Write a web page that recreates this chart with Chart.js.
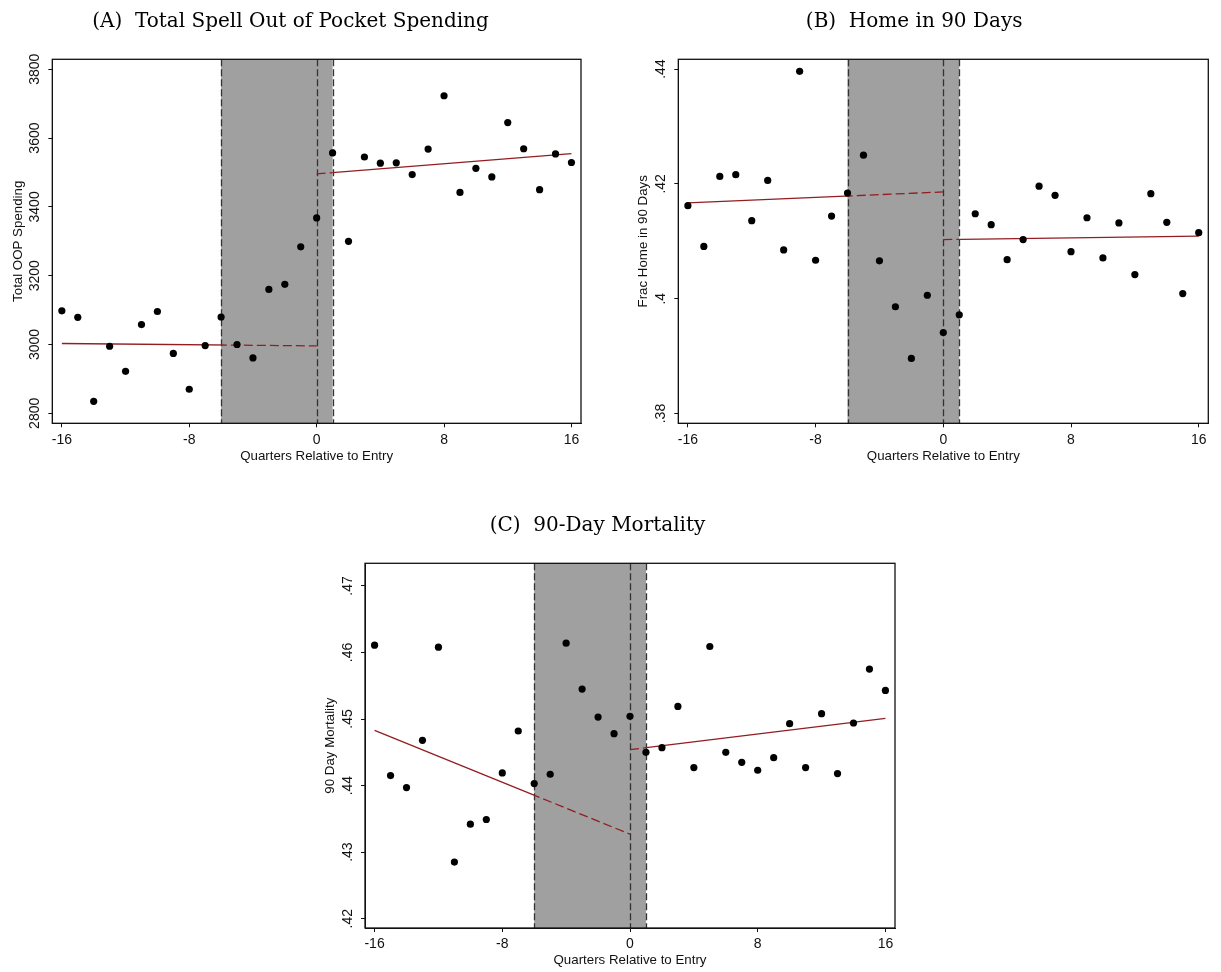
<!DOCTYPE html>
<html>
<head>
<meta charset="utf-8">
<script src="https://cdn.jsdelivr.net/npm/chart.js@4.4.0/dist/chart.umd.min.js"></script>
<style>
  html, body { margin: 0; padding: 0; background: #fff; overflow: hidden; width: 1221px; height: 972px; }
  canvas { position: absolute; }
</style>
</head>
<body>
<canvas id="chartA" width="603" height="470" style="left:0px;top:0px"></canvas>
<canvas id="chartB" width="602" height="470" style="left:620px;top:0px"></canvas>
<canvas id="chartC" width="640" height="470" style="left:300px;top:504px"></canvas>
<script>
// quarters relative to entry (-16 .. 16)
const quarters = [-16, -15, -14, -13, -12, -11, -10, -9, -8, -7, -6, -5, -4, -3, -2, -1,
  0, 1, 2, 3, 4, 5, 6, 7, 8, 9, 10, 11, 12, 13, 14, 15, 16];
const xTicks = [-16, -8, 0, 8, 16];

// shaded window around entry
const windowStart = -6;
const windowEnd = 1;
const entryQuarter = 0;

// fitted lines: endpoints before / after entry
const preFitQuarters = [-16, 0];
const postFitQuarters = [0, 16];

// (A) total spell out of pocket spending
const oopSpending = [3098, 3079, 2835, 2995, 2922, 3058, 3096, 2974, 2870, 2997, 3080, 3000, 2961,
  3160, 3175, 3284, 3368, 3557, 3300, 3545, 3527, 3528, 3494, 3568, 3723, 3442, 3512, 3487,
  3645, 3569, 3450, 3554, 3529];
const oopPreFit = [3003, 2996];
const oopPostFit = [3496, 3555];
const oopTicks = [2800, 3000, 3200, 3400, 3600, 3800];
const oopTickLabels = ["2800", "3000", "3200", "3400", "3600", "3800"];

// (B) home in 90 days
const homeFrac = [0.4162, 0.4091, 0.4213, 0.4216, 0.4136, 0.4206, 0.4085, 0.4396, 0.4067, 0.4144,
  0.4184, 0.4250, 0.4066, 0.3986, 0.3896, 0.4006, 0.3941, 0.3972, 0.4148, 0.4129, 0.4068,
  0.4103, 0.4196, 0.4180, 0.4082, 0.4141, 0.4071, 0.4132, 0.4042, 0.4183, 0.4133, 0.4009, 0.4115];
const homePreFit = [0.4167, 0.4186];
const homePostFit = [0.4103, 0.4109];
const homeTicks = [0.38, 0.40, 0.42, 0.44];
const homeTickLabels = [".38", ".4", ".42", ".44"];

// (C) 90-day mortality
const mortality = [0.4611, 0.4415, 0.4397, 0.4468, 0.4608, 0.4285, 0.4342, 0.4349, 0.4419, 0.4482,
  0.4403, 0.4417, 0.4614, 0.4545, 0.4503, 0.4478, 0.4504, 0.4450, 0.4457, 0.4519, 0.4427,
  0.4609, 0.4450, 0.4435, 0.4423, 0.4442, 0.4493, 0.4427, 0.4508, 0.4418, 0.4494, 0.4575, 0.4543];
const mortPreFit = [0.4483, 0.4327];
const mortPostFit = [0.4454, 0.4501];
const mortTicks = [0.42, 0.43, 0.44, 0.45, 0.46, 0.47];
const mortTickLabels = [".42", ".43", ".44", ".45", ".46", ".47"];

Chart.defaults.font.family = "'Liberation Sans', Arial, sans-serif";
Chart.defaults.color = "#111";

// shading, dashed verticals, clipping of fit lines, frame, rotated y labels
const panelDecor = {
  id: "panelDecor",
  beforeDatasetsDraw(chart) {
    const { ctx, chartArea: a, scales: { x } } = chart;
    const x0 = x.getPixelForValue(windowStart);
    const x1 = x.getPixelForValue(windowEnd);
    ctx.save();
    ctx.fillStyle = "#a0a0a0";
    ctx.fillRect(x0, a.top, x1 - x0, a.bottom - a.top);
    ctx.strokeStyle = "#333";
    ctx.lineWidth = 1.3;
    ctx.setLineDash([7, 3]);
    [windowStart, entryQuarter, windowEnd].forEach(q => {
      const px = Math.round(x.getPixelForValue(q)) + 0.5;
      ctx.beginPath();
      ctx.moveTo(px, a.top);
      ctx.lineTo(px, a.bottom);
      ctx.stroke();
    });
    ctx.restore();
  },
  beforeDatasetDraw(chart, args) {
    const part = chart.data.datasets[args.index].fitPart;
    if (!part) return;
    const { ctx, chartArea: a, scales: { x } } = chart;
    const x0 = x.getPixelForValue(windowStart);
    const x1 = x.getPixelForValue(windowEnd);
    ctx.save();
    ctx.beginPath();
    if (part === "in") {
      ctx.rect(x0, a.top, x1 - x0, a.bottom - a.top);
    } else {
      ctx.rect(a.left, a.top, x0 - a.left, a.bottom - a.top);
      ctx.rect(x1, a.top, a.right - x1, a.bottom - a.top);
    }
    ctx.clip();
  },
  afterDatasetDraw(chart, args) {
    if (chart.data.datasets[args.index].fitPart) chart.ctx.restore();
  },
  afterDatasetsDraw(chart) {
    const { ctx, chartArea: a } = chart;
    ctx.save();
    ctx.strokeStyle = "#111";
    ctx.lineWidth = 1.3;
    ctx.strokeRect(a.left, a.top, a.right - a.left, a.bottom - a.top);
    ctx.restore();
  },
  afterDraw(chart) {
    const { ctx, chartArea: a, scales: { y } } = chart;
    const labels = chart.options.plugins.panelDecor.yLabels;
    ctx.save();
    ctx.fillStyle = "#111";
    ctx.font = "14px 'Liberation Sans', Arial, sans-serif";
    ctx.textAlign = "center";
    ctx.textBaseline = "middle";
    y.ticks.forEach((t, i) => {
      ctx.save();
      ctx.translate(a.left - 17, y.getPixelForValue(t.value));
      ctx.rotate(-Math.PI / 2);
      ctx.fillText(labels[i], 0, 0);
      ctx.restore();
    });
    ctx.restore();
  }
};

function fitSet(xs, ys, part) {
  return {
    data: xs.map((q, i) => ({ x: q, y: ys[i] })),
    showLine: true,
    pointRadius: 0,
    borderColor: "#921d22",
    borderWidth: 1.3,
    borderDash: part === "in" ? [9, 4] : [],
    fitPart: part
  };
}

function makePanel(id, p) {
  return new Chart(document.getElementById(id), {
    type: "scatter",
    data: {
      datasets: [
        {
          data: quarters.map((q, i) => ({ x: q, y: p.values[i] })),
          pointRadius: 3.6,
          pointBackgroundColor: "#000",
          pointBorderWidth: 0
        },
        fitSet(preFitQuarters, p.preFit, "out"),
        fitSet(preFitQuarters, p.preFit, "in"),
        fitSet(postFitQuarters, p.postFit, "out"),
        fitSet(postFitQuarters, p.postFit, "in")
      ]
    },
    options: {
      responsive: false,
      animation: false,
      layout: { padding: { left: 0, right: p.padRight, top: 0, bottom: 0 } },
      plugins: {
        legend: { display: false },
        tooltip: { enabled: false },
        title: {
          display: true,
          text: p.title,
          color: "#000",
          font: { family: "'DejaVu Serif', serif", size: 20, weight: "normal" },
          padding: { top: 9.3, bottom: 26 }
        },
        panelDecor: { yLabels: p.yTickLabels }
      },
      scales: {
        x: {
          type: "linear",
          min: -16.6,
          max: 16.6,
          afterBuildTicks: s => { s.ticks = xTicks.map(v => ({ value: v })); },
          afterFit: s => { s.height = p.xAxisHeight; },
          ticks: { color: "#111", font: { size: 14 }, padding: 4, maxRotation: 0, autoSkip: false,
            callback: v => String(v) },
          grid: { drawOnChartArea: false, drawTicks: true, tickLength: 4, color: "#111" },
          border: { display: true, color: "#111", width: 1 },
          title: { display: true, text: "Quarters Relative to Entry", color: "#111",
            font: { size: 13.3 }, padding: { top: 0, bottom: 6 } }
        },
        y: {
          type: "linear",
          min: p.yMin,
          max: p.yMax,
          afterBuildTicks: s => { s.ticks = p.yTicks.map(v => ({ value: v })); },
          afterFit: s => { s.width = p.yAxisWidth; },
          ticks: { display: false },
          grid: { drawOnChartArea: false, drawTicks: true, tickLength: 4, color: "#111" },
          border: { display: true, color: "#111", width: 1 },
          title: { display: true, text: p.yTitle, color: "#111",
            font: { size: 13.3 }, padding: { top: p.yTitlePad, bottom: 0 } }
        }
      }
    },
    plugins: [panelDecor]
  });
}

makePanel("chartA", {
  title: "(A)  Total Spell Out of Pocket Spending",
  yTitle: "Total OOP Spending",
  values: oopSpending, preFit: oopPreFit, postFit: oopPostFit,
  yMin: 2771, yMax: 3829, yTicks: oopTicks, yTickLabels: oopTickLabels,
  yAxisWidth: 52.3, yTitlePad: 10.3, padRight: 22, xAxisHeight: 46.7
});

makePanel("chartB", {
  title: "(B)  Home in 90 Days",
  yTitle: "Frac Home in 90 Days",
  values: homeFrac, preFit: homePreFit, postFit: homePostFit,
  yMin: 0.3783, yMax: 0.4417, yTicks: homeTicks, yTickLabels: homeTickLabels,
  yAxisWidth: 58.3, yTitlePad: 15.8, padRight: 13.7, xAxisHeight: 46.7
});

makePanel("chartC", {
  title: "(C)  90-Day Mortality",
  yTitle: "90 Day Mortality",
  values: mortality, preFit: mortPreFit, postFit: mortPostFit,
  yMin: 0.4186, yMax: 0.4734, yTicks: mortTicks, yTickLabels: mortTickLabels,
  yAxisWidth: 65, yTitlePad: 22.5, padRight: 45, xAxisHeight: 46
});
</script>
</body>
</html>
